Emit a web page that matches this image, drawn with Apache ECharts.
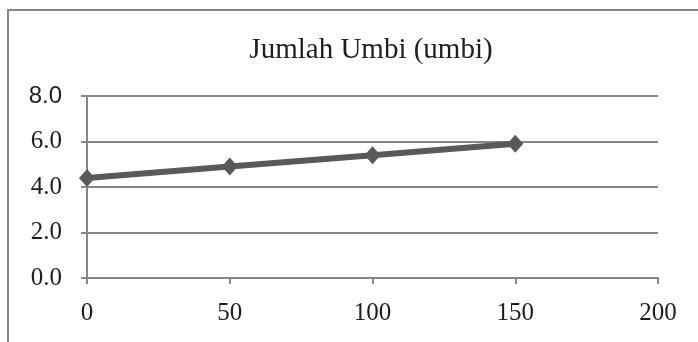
<!DOCTYPE html>
<html>
<head>
<meta charset="utf-8">
<script src="https://cdn.jsdelivr.net/npm/echarts@6/dist/echarts.min.js"></script>
<style>
  html, body { margin: 0; padding: 0; background: #fff; }
  #chart { width: 698px; height: 342px; }
</style>
</head>
<body>
<div id="chart"></div>
<script>
// Jumlah umbi per dosis perlakuan
const doses = [0, 50, 100, 150];
const tuberCounts = [4.4, 4.9, 5.4, 5.9];
const yTicks = [0, 2, 4, 6, 8];
const xTicks = [0, 50, 100, 150, 200];
const chartTitle = 'Jumlah Umbi (umbi)';

const SERIF = '"Liberation Serif", "DejaVu Serif", serif';
const SANS = '"Liberation Sans", Arial, sans-serif';
const chart = echarts.init(document.getElementById('chart'));

chart.setOption({
  animation: false,
  backgroundColor: '#fff',
  title: {
    text: chartTitle,
    left: 366,
    top: 31,
    textAlign: 'center',
    textStyle: { fontFamily: SERIF, fontSize: 29, fontWeight: 'normal', color: '#1e1e1e' }
  },
  graphic: [{
    type: 'rect',
    shape: { x: 8, y: 10, width: 720, height: 360 },
    style: { fill: 'none', stroke: '#878787', lineWidth: 2 },
    silent: true
  }],
  grid: { left: 87, right: 40, top: 96, bottom: 64 },
  xAxis: {
    type: 'value',
    min: xTicks[0],
    max: xTicks[xTicks.length - 1],
    interval: 50,
    axisLine: { lineStyle: { color: '#878787', width: 2 } },
    axisTick: { show: true, length: 6, lineStyle: { color: '#878787', width: 2 } },
    splitLine: { show: false },
    axisLabel: { fontFamily: SERIF, fontSize: 25, color: '#1e1e1e', margin: 23 }
  },
  yAxis: {
    type: 'value',
    min: yTicks[0],
    max: yTicks[yTicks.length - 1],
    interval: 2,
    axisLine: { show: true, lineStyle: { color: '#878787', width: 2 } },
    axisTick: { show: true, length: 6, lineStyle: { color: '#878787', width: 2 } },
    splitLine: { show: true, lineStyle: { color: '#878787', width: 2 } },
    axisLabel: {
      fontFamily: SERIF, fontSize: 25, color: '#1e1e1e', margin: 25,
      formatter: v => v === yTicks[yTicks.length - 1] ? '{top|' + v.toFixed(1) + '}' : v.toFixed(1),
      rich: { top: { fontFamily: SANS, fontSize: 24, color: '#1e1e1e' } }
    }
  },
  series: [{
    type: 'line',
    data: doses.map((d, i) => [d, tuberCounts[i]]),
    symbol: 'diamond',
    symbolSize: [16, 18],
    lineStyle: { color: '#595959', width: 6 },
    itemStyle: { color: '#595959' }
  }]
});
</script>
</body>
</html>
